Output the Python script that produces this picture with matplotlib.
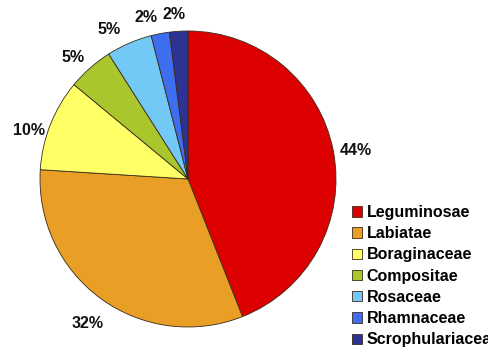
import matplotlib
matplotlib.use("Agg")
import matplotlib.pyplot as plt
import numpy as np

families = ["Leguminosae", "Labiatae", "Boraginaceae", "Compositae",
            "Rosaceae", "Rhamnaceae", "Scrophulariaceae"]
shares = [44, 32, 10, 5, 5, 2, 2]
colors = ["#DD0000", "#E99E26", "#FFFF66", "#A9C62C", "#73C9F6", "#3E6EF0", "#2E3292"]

# label placement tweaks (angle shift in degrees, distance in radii)
label_shift = [-1.3, 1.3, 4.5, 2.0, 4.5, 3.7, 1.3]
label_dist = [1.15, 1.19, 1.122, 1.128, 1.142, 1.128, 1.115]

plt.rcParams['font.family'] = ['Liberation Sans', 'DejaVu Sans']

fig = plt.figure(figsize=(4.89, 3.6), dpi=100)
ax = fig.add_axes([0, 0, 1, 1])

cx, cy, R = 188, 181, 148
wedges, texts = ax.pie(shares, colors=colors, startangle=90, counterclock=False,
                       center=(cx, cy), radius=R, frame=True,
                       labels=[f"{s}%" for s in shares], labeldistance=1.135,
                       wedgeprops=dict(edgecolor="#3a2a1a", linewidth=0.6),
                       textprops=dict(fontsize=11.5, fontweight='bold', color='#111111',
                                      va='center'))
for w, t, sh, d in zip(wedges, texts, label_shift, label_dist):
    th = np.deg2rad((w.theta1 + w.theta2) / 2 + sh)
    t.set_position((cx + d * R * np.cos(th), cy + d * R * np.sin(th)))
    t.set_ha('center')
ax.set_xlim(0, 489)
ax.set_ylim(0, 360)
ax.set_aspect('equal')
ax.axis('off')

leg = ax.legend(wedges, families, loc='upper left', bbox_to_anchor=(352 / 489, 1 - 205 / 360),
                bbox_transform=fig.transFigure, frameon=False,
                prop=dict(size=11.5, weight='bold'), handlelength=0.62, handleheight=0.62,
                handletextpad=0.28, labelspacing=0.39, borderpad=0, borderaxespad=0)
fig.savefig("out.png", dpi=100)
